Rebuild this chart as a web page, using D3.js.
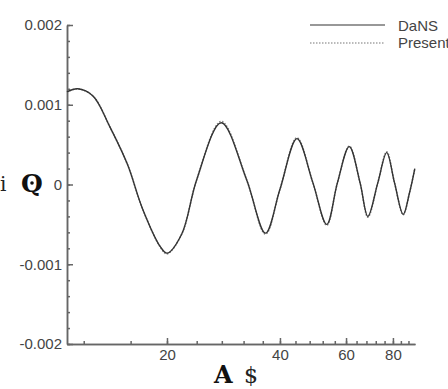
<!DOCTYPE html>
<html>
<head>
<meta charset="utf-8">
<script src="https://cdn.jsdelivr.net/npm/d3@7"></script>
<style>
  html,body{margin:0;padding:0;background:#fff;}
  svg{display:block;}
  .axis path,.axis line{stroke:#666;stroke-width:1.5;}
  .axis text{font-family:Arial,'Liberation Sans',sans-serif;font-size:15px;fill:#444;}
</style>
</head>
<body>
<div id="chart"></div>
<script>
// x positions (log axis) and values (x 1e-3)
const xs      = [10.83, 11.57, 12.7, 14.1, 15.7, 17.2, 19.2, 20, 21.9, 24, 27.9, 32.6, 36.6, 40, 44.4, 48.9, 53.3, 56.9, 61.2, 65.4, 68.6, 72.9, 77, 80.8, 85.2, 88.6, 91.5];
const dansY   = [1.16, 1.2, 1.11, 0.72, 0.25, -0.3, -0.78, -0.86, -0.62, 0.06, 0.775, 0.06, -0.61, -0.06, 0.575, 0.03, -0.5, 0.02, 0.475, 0.02, -0.4, 0.02, 0.4, 0.02, -0.375, -0.1, 0.2];
const presY   = [1.16, 1.2, 1.11, 0.72, 0.25, -0.3, -0.785, -0.87, -0.62, 0.06, 0.79, 0.06, -0.62, -0.06, 0.585, 0.03, -0.51, 0.02, 0.48, 0.02, -0.41, 0.02, 0.41, 0.02, -0.38, -0.1, 0.2];
const xMajor  = [20, 40, 60, 80];
const xMinor  = d3.range(12, 90, 4);
const yMajor  = [-0.002, -0.001, 0, 0.001, 0.002];
const yMinor  = d3.range(-20, 21, 2).map(d => d / 10000);
const seriesNames = ['DaNS', 'Present'];

const W = 448, H = 389;
const svg = d3.select('#chart').append('svg').attr('width', W).attr('height', H);

const x = d3.scaleLog().domain([10.83, 91.6]).range([67, 415]);
const y = d3.scaleLinear().domain([-0.002, 0.002]).range([344, 25]);
const yfmt = d => d === 0 ? '0' : (d < 0 ? '-' : '') + Math.abs(d).toFixed(3);

// axes: minor ticks, then major with labels
svg.append('g').attr('class', 'axis').attr('transform', 'translate(0,344)')
  .call(d3.axisBottom(x).tickValues(xMinor).tickSizeInner(-3).tickSizeOuter(0).tickFormat(''));
svg.append('g').attr('class', 'axis').attr('transform', 'translate(0,344)')
  .call(d3.axisBottom(x).tickValues(xMajor).tickSizeInner(-6).tickSizeOuter(0).tickPadding(5).tickFormat(d3.format('d')));
svg.append('g').attr('class', 'axis').attr('transform', 'translate(67,0)')
  .call(d3.axisLeft(y).tickValues(yMinor).tickSizeInner(-3).tickSizeOuter(0).tickFormat(''));
svg.append('g').attr('class', 'axis').attr('transform', 'translate(67,0)')
  .call(d3.axisLeft(y).tickValues(yMajor).tickSizeInner(-6).tickSizeOuter(0).tickPadding(5).tickFormat(yfmt));

// curves
const line = d3.line().x(d => x(d[0])).y(d => y(d[1] / 1000)).curve(d3.curveCatmullRom.alpha(0.5));
svg.append('path').datum(xs.map((v, i) => [v, presY[i]]))
  .attr('d', line).attr('fill', 'none').attr('stroke', '#888').attr('stroke-width', 1.6)
  .attr('stroke-dasharray', '1.5 1.5');
svg.append('path').datum(xs.map((v, i) => [v, dansY[i]]))
  .attr('d', line).attr('fill', 'none').attr('stroke', '#333').attr('stroke-width', 1.4);

// legend
const lg = svg.append('g');
lg.append('line').attr('x1', 310).attr('x2', 385).attr('y1', 25).attr('y2', 25)
  .attr('stroke', '#333').attr('stroke-width', 1.2);
lg.append('line').attr('x1', 310).attr('x2', 385).attr('y1', 43).attr('y2', 43)
  .attr('stroke', '#777').attr('stroke-width', 1.1).attr('stroke-dasharray', '1.5 1.5');
lg.selectAll('text').data(seriesNames).join('text')
  .attr('x', 398).attr('y', (d, i) => 31 + i * 17)
  .style('font-family', "Arial,'Liberation Sans',sans-serif").style('font-size', '15px').attr('fill', '#444')
  .text(d => d);

// axis titles (symbol glyphs as in the source)
svg.append('text').attr('x', 0).attr('y', 191).text('i')
  .style('font-family', "'DejaVu Serif',serif").style('font-size', '20px').attr('fill', '#222');
svg.append('text').attr('x', 21).attr('y', 192).text('Q')
  .style('font-family', "'DejaVu Serif',serif").style('font-weight', 'bold').style('font-size', '25px').attr('fill', '#111');
svg.append('circle').attr('cx', 32).attr('cy', 183).attr('r', 1.8).attr('fill', '#111');
svg.append('text').attr('x', 214).attr('y', 383).text('A')
  .style('font-family', "'DejaVu Serif',serif").style('font-weight', 'bold').style('font-size', '24px').attr('fill', '#111');
svg.append('text').attr('x', 244).attr('y', 383).text('$')
  .style('font-family', "'DejaVu Serif',serif").style('font-size', '22px').attr('fill', '#222');
</script>
</body>
</html>
